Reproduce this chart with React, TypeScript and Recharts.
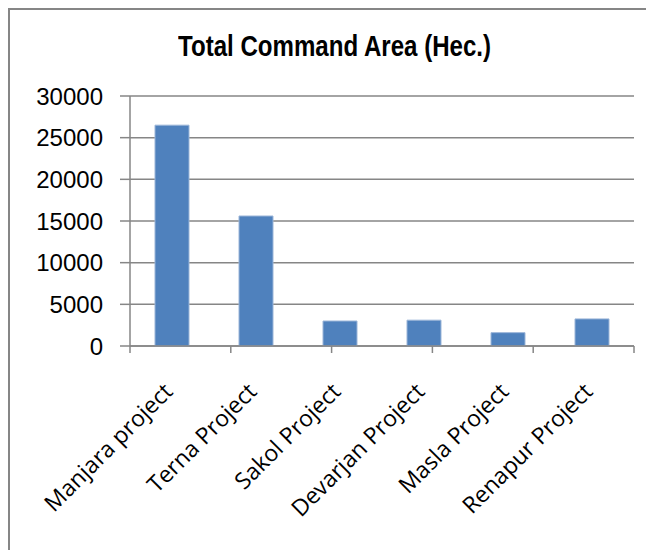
import React from 'react';
import { BarChart, Bar, XAxis, YAxis, CartesianGrid } from 'recharts';

const projects = [
  'Manjara project',
  'Terna Project',
  'Sakol Project',
  'Devarjan Project',
  'Masla Project',
  'Renapur Project',
];
const commandArea = [26500, 15600, 3000, 3100, 1600, 3250];
const yTicks = [0, 5000, 10000, 15000, 20000, 25000, 30000];
const boundaryTicks = [0, 1, 2, 3, 4, 5, 6];

const data = projects.map((name, i) => ({ name, area: commandArea[i] }));

const AXIS = '#868686';

const CategoryTick = (props: any) => {
  const { x, y, payload } = props;
  return (
    <g transform={`translate(${x + 2},${y + 39})`}>
      <text
        textAnchor="end"
        transform="rotate(-45)"
        fill="#000"
        fontFamily="'Open Sans', sans-serif"
        fontSize={23}
      >
        {payload.value}
      </text>
    </g>
  );
};

const App: React.FC = () => {
  return (
    <div
      style={{
        position: 'relative',
        width: 646,
        height: 542,
        boxSizing: 'border-box',
        borderLeft: `2px solid ${AXIS}`,
        borderTop: `2px solid ${AXIS}`,
        background: '#fff',
      }}
    >
      <div
        style={{
          position: 'absolute',
          left: 25,
          top: 18,
          width: 600,
          textAlign: 'center',
          lineHeight: '36px',
        }}
      >
        <span
          style={{
            display: 'inline-block',
            transform: 'scaleX(0.83)',
            fontFamily: "'Liberation Sans', Arial, sans-serif",
            fontWeight: 'bold',
            fontSize: 29,
            color: '#000',
          }}
        >
          Total Command Area (Hec.)
        </span>
      </div>
      <BarChart
        width={644}
        height={540}
        data={data}
        margin={{ top: 86, right: 20, bottom: 0, left: 20 }}
      >
        <CartesianGrid
          xAxisId="cat"
          vertical={false}
          stroke={AXIS}
          strokeWidth={1.5}
        />
        <XAxis
          xAxisId="bounds"
          type="number"
          domain={[0, 6]}
          ticks={boundaryTicks}
          tickFormatter={() => ''}
          axisLine={{ stroke: AXIS, strokeWidth: 1.5 }}
          tickLine={{ stroke: AXIS, strokeWidth: 1.5 }}
          tickSize={7}
          height={8}
          allowDataOverflow
        />
        <XAxis
          xAxisId="cat"
          dataKey="name"
          axisLine={false}
          tickLine={false}
          tickSize={0}
          tickMargin={0}
          interval={0}
          height={196}
          tick={<CategoryTick />}
        />
        <YAxis
          domain={[0, 30000]}
          ticks={yTicks}
          width={100}
          axisLine={{ stroke: AXIS, strokeWidth: 1.5 }}
          tickLine={{ stroke: AXIS, strokeWidth: 1.5 }}
          tickSize={10}
          tickMargin={17}
          tick={{ fill: '#000', fontSize: 24, fontFamily: "'Liberation Sans', Arial, sans-serif" }}
          interval={0}
        />
        <Bar
          xAxisId="cat"
          dataKey="area"
          fill="#4F81BD"
          stroke="#9bb5d8"
          strokeWidth={1}
          barSize={34}
          isAnimationActive={false}
        />
      </BarChart>
    </div>
  );
};

export default App;
